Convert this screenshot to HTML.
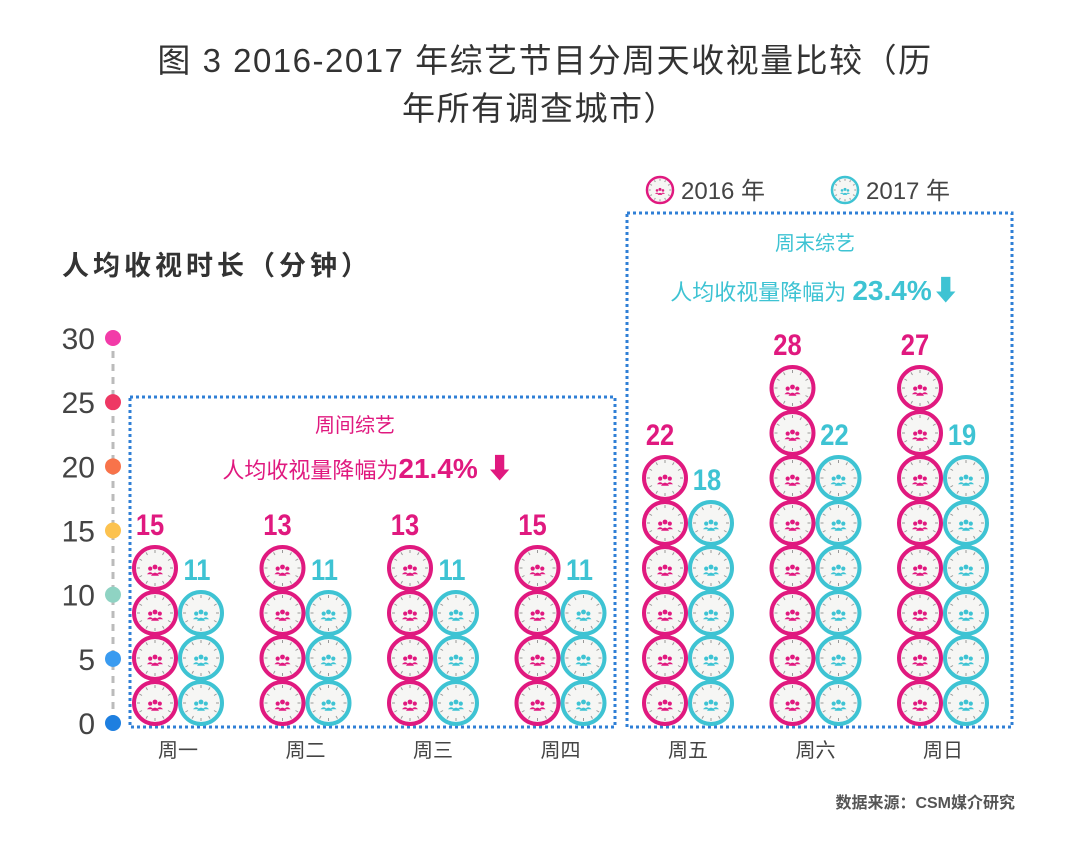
<!DOCTYPE html>
<html><head><meta charset="utf-8"><style>
body{margin:0;background:#fff;}
svg{display:block;font-family:"Liberation Sans","Noto Sans CJK SC",sans-serif;}
</style></head><body>
<svg id="c" width="1080" height="863" viewBox="0 0 1080 863">
<defs>
<g id="ppl"><circle cx="-6" cy="-3" r="2.6"/><circle cx="0" cy="-5" r="3"/><circle cx="6" cy="-3" r="2.6"/><path d="M-10 4 Q-6 -1 -2 4 Z M-5 6 Q0 -2 5 6 Z M2 4 Q6 -1 10 4 Z"/></g>
</defs>
<text x="545" y="72" text-anchor="middle" font-size="33" letter-spacing="1.5" fill="#333">图 3  2016-2017 年综艺节目分周天收视量比较（历</text>
<text x="540" y="120" text-anchor="middle" font-size="33" letter-spacing="1.5" fill="#333">年所有调查城市）</text>
<text x="62" y="275" font-size="27" letter-spacing="4" font-weight="bold" fill="#333">人均收视时长（分钟）</text>
<g id="axis"></g>
<rect x="130" y="397" width="485" height="330" fill="none" stroke="#2f7fd6" stroke-width="3" stroke-dasharray="3 3"/>
<rect x="627" y="213" width="385" height="514" fill="none" stroke="#2f7fd6" stroke-width="3" stroke-dasharray="3 3"/>
<text x="355" y="432" text-anchor="middle" font-size="20" fill="#e0197f">周间综艺</text>
<text x="368" y="478" text-anchor="middle" font-size="22" fill="#e0197f">人均收视量降幅为<tspan font-weight="bold" font-size="28">21.4% ⬇</tspan></text>
<text x="815" y="250" text-anchor="middle" font-size="20" fill="#3ec3d3">周末综艺</text>
<text x="815" y="300" text-anchor="middle" font-size="22" fill="#3ec3d3">人均收视量降幅为 <tspan font-weight="bold" font-size="28">23.4%⬇</tspan></text>
<g id="marks"></g>
<g id="legend"></g>
<text x="1015" y="808" text-anchor="end" font-size="16" font-weight="bold" fill="#555">数据来源：CSM媒介研究</text>
</svg>
<script>
const days=["周一","周二","周三","周四","周五","周六","周日"];
const v2016=[15,13,13,15,22,28,27];
const v2017=[11,11,11,11,18,22,19];
const yTicks=[0,5,10,15,20,25,30];
const tickColors=["#1e7fe0","#3a9bf0","#8fd3c3","#fcc24f","#f8734a","#ee3864","#f23ba8"];
const NS="http://www.w3.org/2000/svg";
function el(t,a,p){const e=document.createElementNS(NS,t);for(const k in a)e.setAttribute(k,a[k]);p.appendChild(e);return e;}
const y=v=>723-v*(385/30);
const xc=i=>178+i*127.5;
const ax=document.getElementById('axis');
el('line',{x1:113,x2:113,y1:y(30),y2:y(0),stroke:'#bbb','stroke-width':3,'stroke-dasharray':'7 6'},ax);
yTicks.forEach((t,i)=>{
 const c=el('circle',{cx:113,cy:y(t),r:8,fill:tickColors[i]},ax);
 
 
 const tx=el('text',{x:95,y:y(t)+11,'text-anchor':'end','font-size':30,fill:'#444'},ax);tx.textContent=t;
 
 
});
function icon(g,cx,cy,col,s){
 const r=21*s;
 el('circle',{cx:cx,cy:cy,r:r,fill:'#f6f6f4',stroke:col,'stroke-width':4*s},g);
 for(let k=0;k<12;k++){const a=k*Math.PI/6;el('line',{x1:cx+Math.cos(a)*(r-3*s),y1:cy+Math.sin(a)*(r-3*s),x2:cx+Math.cos(a)*(r-6*s),y2:cy+Math.sin(a)*(r-6*s),stroke:'#999','stroke-width':1},g);}
 el('use',{href:'#ppl',transform:`translate(${cx},${cy+3*s}) scale(${0.8*s})`,fill:col},g);
}
const m=document.getElementById('marks');
const step=45,base=703;
function column(i,val,col,dx,labelDx,name){
 const g=el('g',{},m);
 
 
 const n=Math.ceil(val/3.75);
 for(let k=0;k<n;k++)icon(g,xc(i)+dx,base-k*step,col,1);
 const lx=xc(i)+dx+labelDx;
 const t=el('text',{x:lx,y:base-n*step+12,'text-anchor':'middle','font-size':30,'font-weight':'bold',fill:col,transform:`translate(${lx},0) scale(0.85,1) translate(${-lx},0)`},g);
 t.textContent=val;
 
 
}
days.forEach((d,i)=>{
 column(i,v2016[i],'#e0197f',-23,-5,'bar-2016-'+i);
 column(i,v2017[i],'#3ec3d3',23,-4,'bar-2017-'+i);
 const t=el('text',{x:xc(i),y:757,'text-anchor':'middle','font-size':20,fill:'#444'},m);t.textContent=d;
 
 
});
const lg=document.getElementById('legend');
[["2016 年",'#e0197f',660],["2017 年",'#3ec3d3',845]].forEach(([l,c,x])=>{
 const g=el('g',{},lg);
 
 
 icon(g,x,190,c,0.62);
 const t=el('text',{x:x+21,y:199,'font-size':24,fill:'#444'},g);t.textContent=l;
});
</script>
</body></html>
